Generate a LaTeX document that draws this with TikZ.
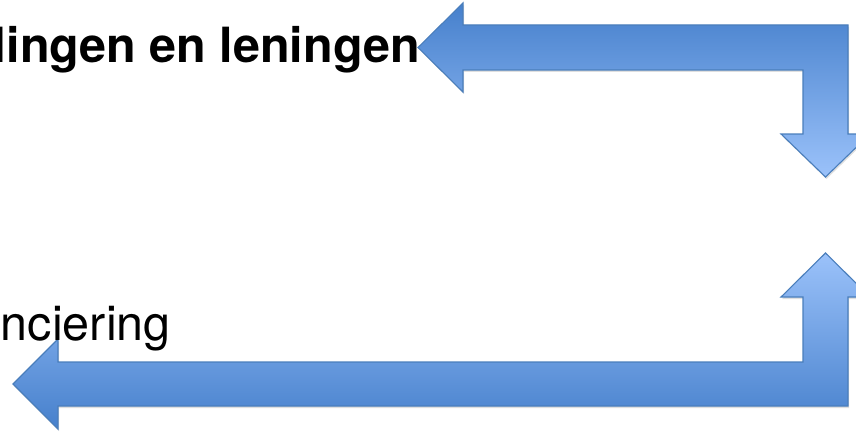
\documentclass[tikz,border=0pt]{standalone}
\usepackage{fontspec}
\setmainfont{TeX Gyre Heros}
\usetikzlibrary{shadows}
\definecolor{arrowdark}{RGB}{70,128,204}
\definecolor{arrowlight}{RGB}{155,194,250}
\definecolor{arrowline}{RGB}{74,126,187}
\begin{document}
\begin{tikzpicture}[x=1pt,y=-1pt]
  \tikzstyle{bigarrow}=[draw=arrowline,line width=1.1pt,line join=miter,
    drop shadow={opacity=0.25,shadow xshift=1pt,shadow yshift=-2pt}]
  \tikzstyle{label}=[inner sep=0pt,font=\fontsize{48.5}{58}\selectfont]
  \def\xo{848}	% outer edge of the bend
  \def\xi{803}	% inner edge of the bend
  \def\xm{825.5}	% axis of the vertical heads
  \def\hw{44.5}	% half width of a head
  \clip (0,0) rectangle (856,433);
  % top arrow: right, then down
  \path[bigarrow,top color=arrowdark,bottom color=arrowlight]
    (418,47.5) -- (463,3) -- (463,25) -- (\xo,25) -- (\xo,134)
    -- (\xm+\hw,134) -- (\xm,177) -- (\xm-\hw,134) -- (\xi,134)
    -- (\xi,70) -- (463,70) -- (463,92) -- cycle;
  % bottom arrow: up, then left
  \path[bigarrow,top color=arrowlight,bottom color=arrowdark]
    (13,384) -- (58,339) -- (58,362) -- (\xi,362) -- (\xi,297)
    -- (\xm-\hw,297) -- (\xm,253) -- (\xm+\hw,297) -- (\xo,297)
    -- (\xo,406) -- (58,406) -- (58,429) -- cycle;
  \node[label,anchor=base east,font=\fontsize{48.5}{58}\selectfont\bfseries] (spend) at (420,63) {Bestedingen en leningen};
  \node[label,anchor=base east] (fin) at (171,340) {Financiering};
\end{tikzpicture}
\end{document}
